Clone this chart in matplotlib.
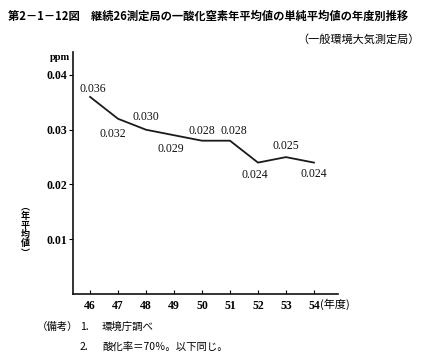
import matplotlib
matplotlib.use('Agg')
import matplotlib.pyplot as plt

plt.rcParams['font.family'] = ['Noto Sans CJK JP', 'DejaVu Sans']

years = [46, 47, 48, 49, 50, 51, 52, 53, 54]
values = [0.036, 0.032, 0.030, 0.029, 0.028, 0.028, 0.024, 0.025, 0.024]
labels = ['0.036', '0.032', '0.030', '0.029', '0.028', '0.028', '0.024', '0.025', '0.024']
# label placement: (dx in points, dy in points)
offsets = [(2, 6), (-4, -11), (0, 9), (-2, -10), (0, 7), (3, 7), (-2, -9), (0, 8), (0, -8)]
yticks = [0.01, 0.02, 0.03, 0.04]
ytick_labels = ['0.01', '0.02', '0.03', '0.04']
ylabel_chars = ['︵', '年', '平', '均', '値', '︶']

num_font = 'Liberation Serif'

fig = plt.figure(figsize=(4.25, 3.55), dpi=100)
ax = fig.add_axes([73 / 425, 61 / 355, 265 / 425, 242 / 355])

ax.plot(years, values, color='#1a1a1a', linewidth=1.3)
for x, y, s, (dx, dy) in zip(years, values, labels, offsets):
    ax.annotate(s, (x, y), xytext=(dx, dy), textcoords='offset points',
                ha='center', va='center', fontsize=8.5, family=num_font,
                color='#111111')

ax.set_xlim(45.39, 54.86)
ax.set_ylim(0, 0.0442)
ax.set_xticks(years)
ax.set_xticklabels([str(y) for y in years], family=num_font, fontsize=8.5,
                   fontweight='bold')
ax.set_yticks(yticks)
ax.set_yticklabels(ytick_labels, family=num_font, fontsize=8.5, fontweight='bold')
ax.tick_params(axis='x', direction='in', length=3, pad=4)
ax.tick_params(axis='y', direction='out', length=3, pad=1)
for side in ['top', 'right']:
    ax.spines[side].set_visible(False)
for side in ['left', 'bottom']:
    ax.spines[side].set_linewidth(1.2)
    ax.spines[side].set_color('#111111')

fig.text(0.752, 1 - 304 / 355, '(年度)', fontsize=8, va='center', ha='left')
fig.text(50 / 425, 1 - 57 / 355, 'ppm', fontsize=7.5, family=num_font,
         fontweight='bold', va='center')
for i, ch in enumerate(ylabel_chars):
    fig.text(25 / 425, 1 - (207 + i * 9.2) / 355, ch, fontsize=6.5,
             va='center', ha='center', fontweight='bold')

fig.text(8 / 425, 1 - 16 / 355,
         '第2－1－12図　継続26測定局の一酸化窒素年平均値の単純平均値の年度別推移',
         fontsize=8.1, fontweight='bold', va='center', ha='left')
fig.text(420 / 425, 1 - 39 / 355, '（一般環境大気測定局）', fontsize=8,
         va='center', ha='right')

fig.text(37 / 425, 1 - 327 / 355, '（備考）', fontsize=7.5, va='center')
fig.text(80 / 425, 1 - 327 / 355, '1.', fontsize=7.5, va='center')
fig.text(102 / 425, 1 - 327 / 355, '環境庁調べ', fontsize=7.5, va='center')
fig.text(80 / 425, 1 - 347 / 355, '2.', fontsize=7.5, va='center')
fig.text(102 / 425, 1 - 347 / 355, '酸化率＝70％。以下同じ。', fontsize=7.5, va='center')

fig.savefig('out.png', dpi=100)
